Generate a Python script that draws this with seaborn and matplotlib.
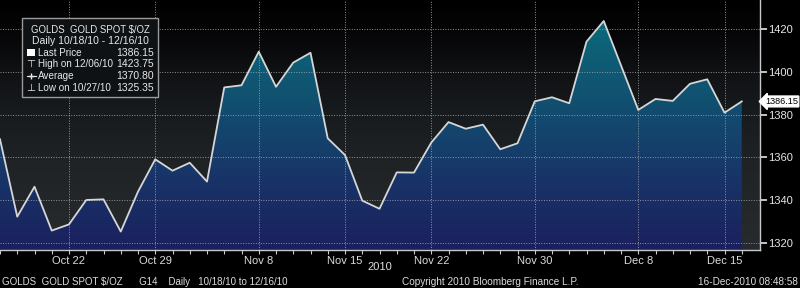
import numpy as np
import pandas as pd
import matplotlib
matplotlib.use("Agg")
import matplotlib.pyplot as plt
import seaborn as sns
from matplotlib.colors import LinearSegmentedColormap
from matplotlib.patches import Polygon, Rectangle
from matplotlib.lines import Line2D

# ---------------- data ----------------
dates = ["2010-10-18", "2010-10-19", "2010-10-20", "2010-10-21", "2010-10-22",
         "2010-10-25", "2010-10-26", "2010-10-27", "2010-10-28", "2010-10-29",
         "2010-11-01", "2010-11-02", "2010-11-03", "2010-11-04", "2010-11-05",
         "2010-11-08", "2010-11-09", "2010-11-10", "2010-11-11", "2010-11-12",
         "2010-11-15", "2010-11-16", "2010-11-17", "2010-11-18", "2010-11-19",
         "2010-11-22", "2010-11-23", "2010-11-24", "2010-11-25", "2010-11-26",
         "2010-11-29", "2010-11-30", "2010-12-01", "2010-12-02", "2010-12-03",
         "2010-12-06", "2010-12-07", "2010-12-08", "2010-12-09", "2010-12-10",
         "2010-12-13", "2010-12-14", "2010-12-15", "2010-12-16"]
prices = [1368.5, 1332.3, 1346.3, 1325.8, 1328.7, 1340.1, 1340.4, 1325.35, 1344.0, 1359.1,
          1353.8, 1357.5, 1348.7, 1392.7, 1393.7, 1409.4, 1393.0, 1404.3, 1408.9, 1368.9,
          1361.1, 1339.8, 1336.0, 1353.0, 1352.9, 1366.9, 1376.5, 1373.4, 1375.3, 1363.8,
          1366.6, 1386.2, 1388.1, 1385.3, 1414.1, 1423.75, 1403.0, 1382.2, 1387.3, 1386.4,
          1394.4, 1396.5, 1380.9, 1386.15]
tick_dates = ["2010-10-22", "2010-10-29", "2010-11-08", "2010-11-15",
              "2010-11-22", "2010-11-30", "2010-12-08", "2010-12-15"]
tick_labels = ["Oct 22", "Oct 29", "Nov 8", "Nov 15", "Nov 22", "Nov 30", "Dec 8", "Dec 15"]
y_ticks = [1320, 1340, 1360, 1380, 1400, 1420]
last_price = 1386.15

legend_title = "GOLDS  GOLD SPOT $/OZ"
legend_sub = "Daily 10/18/10 - 12/16/10"
legend_rows = [("Last Price", "1386.15"), ("High on 12/06/10", "1423.75"),
               ("Average", "1370.80"), ("Low on 10/27/10", "1325.35")]
footer_left = "GOLDS  GOLD SPOT $/OZ      G14    Daily   10/18/10 to 12/16/10"
footer_mid = "Copyright 2010 Bloomberg Finance L.P."
footer_right = "16-Dec-2010 08:48:58"
year_label = "2010"

df = pd.DataFrame({"date": dates, "price": prices})
df["pos"] = np.arange(len(df))
tick_pos = [dates.index(d) for d in tick_dates]

# ---------------- figure ----------------
W, H = 800, 288
FONT = ["Liberation Sans", "DejaVu Sans"]
plt.rcParams["font.family"] = FONT

fig = plt.figure(figsize=(W / 100, H / 100), dpi=100, facecolor="black")
ax_left, ax_right_px, ax_top_px, ax_bot_px = 0, 760, 0, 250
ax = fig.add_axes([ax_left / W, 1 - ax_bot_px / H, (ax_right_px - ax_left) / W,
                   (ax_bot_px - ax_top_px) / H])
ax.set_facecolor("black")

px_per_day = 17.25
px_per_unit = 2.14
xmin, xmax = 0, ax_right_px / px_per_day
ymax = 1420 + 29 / px_per_unit
ymin = 1420 - (ax_bot_px - 29) / px_per_unit

# background gradient (dark bands)
bg_cmap = LinearSegmentedColormap.from_list(
    "bg", [(0.0, "#272b2f"), (0.15, "#24282b"), (0.35, "#1f2326"),
           (0.55, "#181b1e"), (0.72, "#0f1113"), (0.85, "#070709"), (1.0, "#000000")])
grad = np.linspace(0, 1, 256).reshape(-1, 1)
ax.imshow(grad, cmap=bg_cmap, origin="lower", aspect="auto",
          extent=(xmin, xmax, ymin, ymax), zorder=0, interpolation="bilinear")

# gradient fill under the line
fill_cmap = LinearSegmentedColormap.from_list(
    "fill", [(0.0, "#1b205e"), (0.3, "#183568"), (0.6, "#115070"),
             (0.85, "#0c6478"), (1.0, "#0a6e7e")])
im = ax.imshow(grad, cmap=fill_cmap, origin="lower", aspect="auto",
               extent=(xmin, xmax, ymin, ymax), zorder=1, interpolation="bilinear")
verts = [(df["pos"].iloc[0], ymin)] + list(zip(df["pos"], df["price"])) + \
        [(df["pos"].iloc[-1], ymin)]
clip = Polygon(verts, closed=True, facecolor="none", edgecolor="none")
ax.add_patch(clip)
im.set_clip_path(clip)

# dotted grid
for yv in y_ticks:
    ax.axhline(yv, color="#a8a8a8", lw=0.7, ls=(0, (1, 1.6)), zorder=2, alpha=0.85)
for xv in tick_pos:
    ax.axvline(xv, color="#a8a8a8", lw=0.7, ls=(0, (1, 1.6)), zorder=2, alpha=0.85)

# price line
sns.lineplot(data=df, x="pos", y="price", ax=ax, color="#d6d6d6", lw=1.3,
             zorder=3, legend=False)

ax.set_xlim(xmin, xmax)
ax.set_ylim(ymin, ymax)
ax.set_xlabel("")
ax.set_ylabel("")

# axes styling
for s in ["top", "left"]:
    ax.spines[s].set_visible(False)
ax.spines["right"].set_color("#c8c8c8")
ax.spines["bottom"].set_color("#c8c8c8")
ax.spines["right"].set_linewidth(1.0)
ax.spines["bottom"].set_linewidth(1.0)

ax.yaxis.tick_right()
ax.set_yticks(y_ticks)
ax.set_yticklabels([str(v) for v in y_ticks])
ax.tick_params(axis="y", colors="#e6e6e6", labelsize=8, length=5, width=1.2, pad=1,
               labelcolor="#e6e6e6")
ax.set_xticks(tick_pos)
ax.set_xticklabels(tick_labels)
ax.set_xticks(df["pos"].tolist(), minor=True)
ax.tick_params(axis="x", which="both", colors="#c8c8c8", length=3, width=0.8,
               direction="out", pad=1, labelsize=8, labelcolor="#dcdcdc")

# last price tag
ax.annotate(f"{last_price:.2f}", xy=(1.0, last_price), xycoords=("axes fraction", "data"),
            xytext=(3.5, 0), textcoords="offset points", ha="left", va="center",
            fontsize=6.6, color="black", annotation_clip=False,
            bbox=dict(boxstyle="larrow,pad=0.1", fc="white", ec="white"))

# ---------------- legend box ----------------
def fx(x):
    return x / W


def fy(y):
    return 1 - y / H


box = Rectangle((fx(22), fy(97)), fx(158) - fx(22), fy(18) - fy(97),
                transform=fig.transFigure, facecolor="#0e1215", edgecolor="#9a9a9a",
                lw=1.0, zorder=5)
fig.add_artist(box)
tc = "#e8e8e8"
fig.text(fx(90), fy(29.5), legend_title, ha="center", va="center", fontsize=6.9,
         color=tc, zorder=6)
fig.text(fx(90), fy(41), legend_sub, ha="center", va="center", fontsize=7.5,
         color=tc, zorder=6)
row_y = [52.7, 64.3, 76, 87.7]
for (lab, val), yy in zip(legend_rows, row_y):
    fig.text(fx(37.5), fy(yy), lab, ha="left", va="center", fontsize=7.1, color=tc, zorder=6)
    fig.text(fx(154), fy(yy), val, ha="right", va="center", fontsize=7.5, color=tc, zorder=6)
# symbols
fig.add_artist(Rectangle((fx(27.3), fy(56.3)), fx(35.3) - fx(27.3), fy(48.5) - fy(56.3),
                         transform=fig.transFigure, facecolor="white", edgecolor="none",
                         zorder=6))
fig.text(fx(31), fy(64.3), "\u22a4", ha="center", va="center", fontsize=7.5, color=tc,
         zorder=6, family=["DejaVu Sans"])
fig.add_artist(Line2D([fx(26.5), fx(36)], [fy(76), fy(76)], transform=fig.transFigure,
                      color=tc, lw=0.8, zorder=6))
fig.add_artist(Line2D([fx(31.2)], [fy(76)], transform=fig.transFigure, color=tc,
                      marker="+", markersize=5, mew=1.0, lw=0, zorder=6))
fig.text(fx(31), fy(87.7), "\u22a5", ha="center", va="center", fontsize=7.5, color=tc,
         zorder=6, family=["DejaVu Sans"])

# ---------------- footer ----------------
fig.text(fx(380), fy(267.5), year_label, ha="center", va="center", fontsize=8, color="#dcdcdc")
fig.text(fx(2), fy(282), footer_left, ha="left", va="center", fontsize=7.0, color="#dcdcdc")
fig.text(fx(490), fy(282), footer_mid, ha="center", va="center", fontsize=7.2, color="#dcdcdc")
fig.text(fx(798), fy(282), footer_right, ha="right", va="center", fontsize=7.2, color="#dcdcdc")

fig.savefig("out.png", dpi=100, facecolor="black")
